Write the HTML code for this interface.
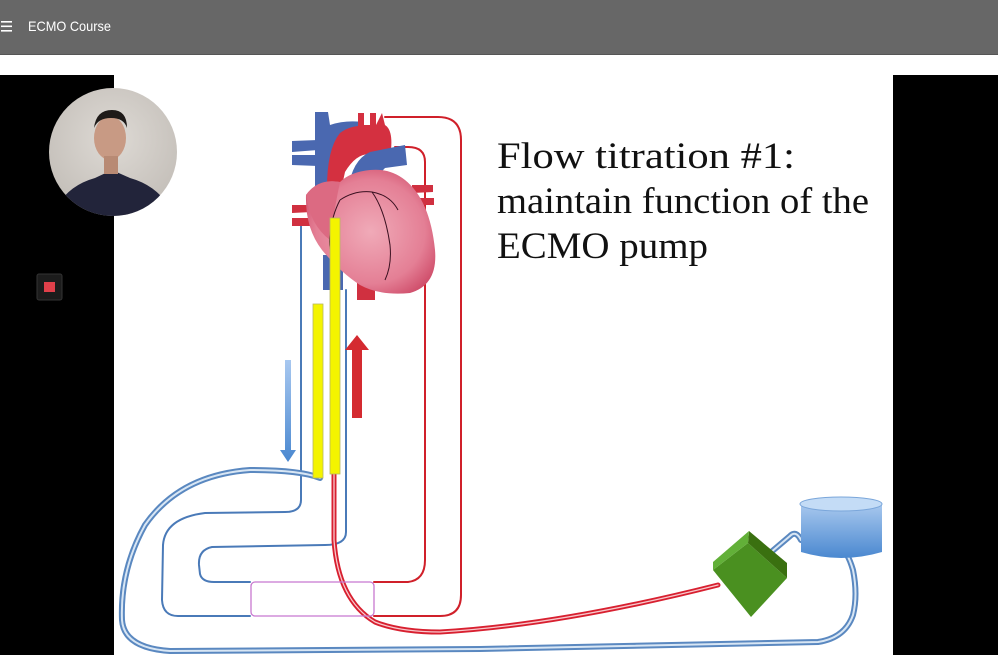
<!DOCTYPE html>
<html><head><meta charset="utf-8"><style>
html,body{margin:0;padding:0;width:998px;height:655px;overflow:hidden;background:#000;font-family:"Liberation Sans",sans-serif}
</style></head><body>
<svg width="998" height="655" viewBox="0 0 998 655" xmlns="http://www.w3.org/2000/svg" style="position:absolute;left:0;top:0">
<defs>
<radialGradient id="hg" cx="0.5" cy="0.5" r="0.6"><stop offset="0" stop-color="#f0aab8"/><stop offset="0.7" stop-color="#e47f95"/><stop offset="1" stop-color="#cf4d6a"/></radialGradient>
<linearGradient id="cyl" x1="0" y1="0" x2="0" y2="1"><stop offset="0" stop-color="#a8c8ee"/><stop offset="1" stop-color="#4a88d0"/></linearGradient>
<linearGradient id="barr" x1="0" y1="0" x2="0" y2="1"><stop offset="0" stop-color="#a8c8f0"/><stop offset="1" stop-color="#4a88d0"/></linearGradient>
<radialGradient id="cam" cx="0.5" cy="0.4" r="0.6"><stop offset="0" stop-color="#dedad5"/><stop offset="1" stop-color="#c4bfb9"/></radialGradient>
</defs>
<rect x="0" y="0" width="998" height="54" fill="#676767"/>
<rect x="0" y="54" width="998" height="1" fill="#555"/>
<rect x="0" y="55" width="998" height="20" fill="#fff"/>
<g fill="#fff"><rect x="1" y="21" width="11" height="1.6"/><rect x="1" y="25.5" width="11" height="1.6"/><rect x="1" y="30" width="11" height="1.6"/></g>
<text x="28" y="31" font-size="14" fill="#fff" textLength="83" lengthAdjust="spacingAndGlyphs" font-family="Liberation Sans, sans-serif">ECMO Course</text>
<rect x="114" y="75" width="779" height="580" fill="#fff"/>
<circle cx="113" cy="152" r="64" fill="url(#cam)"/>
<clipPath id="cc"><circle cx="113" cy="152" r="64"/></clipPath>
<g clip-path="url(#cc)">
<path d="M58 205 Q70 185 95 178 L112 170 L130 178 Q155 185 168 205 L170 230 L55 230Z" fill="#22243a"/>
<ellipse cx="110" cy="138" rx="16" ry="22" fill="#c89a84"/>
<path d="M94 128 Q96 110 112 110 Q127 110 127 128 Q124 118 111 118 Q98 118 94 128Z" fill="#1e1a18"/>
<rect x="104" y="156" width="14" height="18" fill="#b88a74"/>
</g>
<rect x="37" y="274" width="25" height="26" rx="2" fill="#1c1c1c" stroke="#333"/>
<rect x="44" y="282" width="11" height="10" fill="#e0404a"/>

<g fill="none" stroke-linecap="round">
<path d="M301 225 L301 500 Q301 512 285 512 L205 513 Q165 518 163 545 L162 600 Q163 616 178 616 L250 616" stroke="#4a7ab8" stroke-width="2"/>
<path d="M346 290 L346 532 Q346 545 325 545 L212 547 Q198 550 199 565 L200 574 Q202 582 214 582 L250 582" stroke="#4a7ab8" stroke-width="2"/>
<path d="M374 582 L408 582 Q425 580 425 560 L425 162 Q425 147 408 147 L395 147" stroke="#d0202a" stroke-width="2"/>
<path d="M374 616 L440 616 Q461 616 461 595 L461 140 Q461 117 438 117 L385 117" stroke="#d0202a" stroke-width="2"/>
<path d="M320 478 Q300 470 250 470 Q180 475 145 525 Q120 570 122 620 Q124 648 170 651 L480 649 L818 642 Q845 638 853 615 Q858 595 853 570 Q850 560 847 555" stroke="#5a88c0" stroke-width="6"/>
<path d="M320 478 Q300 470 250 470 Q180 475 145 525 Q120 570 122 620 Q124 648 170 651 L480 649 L818 642 Q845 638 853 615 Q858 595 853 570 Q850 560 847 555" stroke="#d8e6f4" stroke-width="2"/>
<path d="M770 553 L790 536 Q796 530 801 540" stroke="#5a88c0" stroke-width="6"/>
<path d="M770 553 L790 536 Q796 530 801 540" stroke="#d8e6f4" stroke-width="2"/>
<path d="M334 474 L334 540 Q338 600 375 622 Q400 632 440 632 Q560 625 718 585" stroke="#d82030" stroke-width="5"/>
<path d="M334 474 L334 540 Q338 600 375 622 Q400 632 440 632 Q560 625 718 585" stroke="#f8c8cc" stroke-width="1.3"/>
</g>
<rect x="251" y="582" width="123" height="34" rx="4" fill="none" stroke="#c878d0" stroke-width="1.3"/>

<g>
<path d="M292 141 L318 140 L318 150 L292 152Z M292 155 L318 155 L318 166 L292 165Z" fill="#4a68b0"/>
<path d="M292 205 L312 205 L312 212 L292 213Z M292 218 L312 218 L312 226 L292 226Z" fill="#d03040"/>
<path d="M412 185 L433 185 L433 192 L412 193Z M412 198 L434 198 L434 205 L412 205Z" fill="#d03040"/>
<path d="M315 112 L328 112 L330 125 Q345 120 362 122 L360 140 Q345 142 342 155 L345 210 L315 215 Z" fill="#4a68b0"/>
<rect x="323" y="255" width="20" height="35" fill="#4a68b0"/>
<rect x="357" y="275" width="18" height="25" fill="#d03040"/>
<path d="M358 113 L364 113 L364 125 L370 125 L370 113 L376 113 L376 125 L382 113 L385 125 Q393 130 391 150 L375 155 Q358 150 345 172 L340 195 L327 195 Q326 150 340 133 Q348 127 358 126Z" fill="#d43040"/>
<path d="M348 190 Q352 160 370 152 L405 145 L407 165 L385 168 Q375 178 375 190Z" fill="#4a68b0"/>
<path d="M306 195 Q318 178 340 182 Q350 172 370 170 Q390 168 405 180 Q430 200 435 250 Q438 285 410 293 Q380 296 360 285 Q340 272 322 250 Q305 228 306 195Z" fill="url(#hg)"/>
<path d="M306 195 Q318 178 340 182 Q335 205 330 240 Q310 225 306 195Z" fill="#dc6a82"/>
<g fill="none" stroke="#3a1020" stroke-width="1">
<path d="M340 200 Q355 190 372 192 Q390 195 398 210"/>
<path d="M372 192 Q385 210 390 245 Q392 265 385 280"/>
<path d="M340 200 Q332 215 330 235 Q328 250 335 260"/>
</g>
</g>

<rect x="313" y="304" width="10" height="174" fill="#f4f400" stroke="#b8b860" stroke-width="0.8"/>
<rect x="330" y="218" width="10" height="256" fill="#f4f400" stroke="#b8b860" stroke-width="0.8"/>

<path d="M285 360 L291 360 L291 450 L296 450 L288 462 L280 450 L285 450Z" fill="url(#barr)"/>
<path d="M352 418 L352 350 L345 350 L357 335 L369 350 L362 350 L362 418Z" fill="#d42a30"/>

<path d="M713 570 L748 543 L787 578 L751 617Z" fill="#4a9020"/>
<path d="M749 531 L787 563 L787 578 L748 543Z" fill="#3a7010"/>
<path d="M749 531 L748 543 L713 570 L713 562Z" fill="#62b038"/>
<path d="M801 504 L801 552 Q841 564 882 552 L882 504Z" fill="url(#cyl)"/>
<ellipse cx="841" cy="504" rx="41" ry="7" fill="#c4dcf6" stroke="#7aa6da"/>

<g font-family="Liberation Serif, serif" font-size="37" fill="#111">
<text x="497" y="168" textLength="298" lengthAdjust="spacingAndGlyphs">Flow titration #1:</text>
<text x="497" y="213" textLength="372" lengthAdjust="spacingAndGlyphs">maintain function of the</text>
<text x="497" y="258" textLength="211" lengthAdjust="spacingAndGlyphs">ECMO pump</text>
</g>
</svg>
</body></html>
